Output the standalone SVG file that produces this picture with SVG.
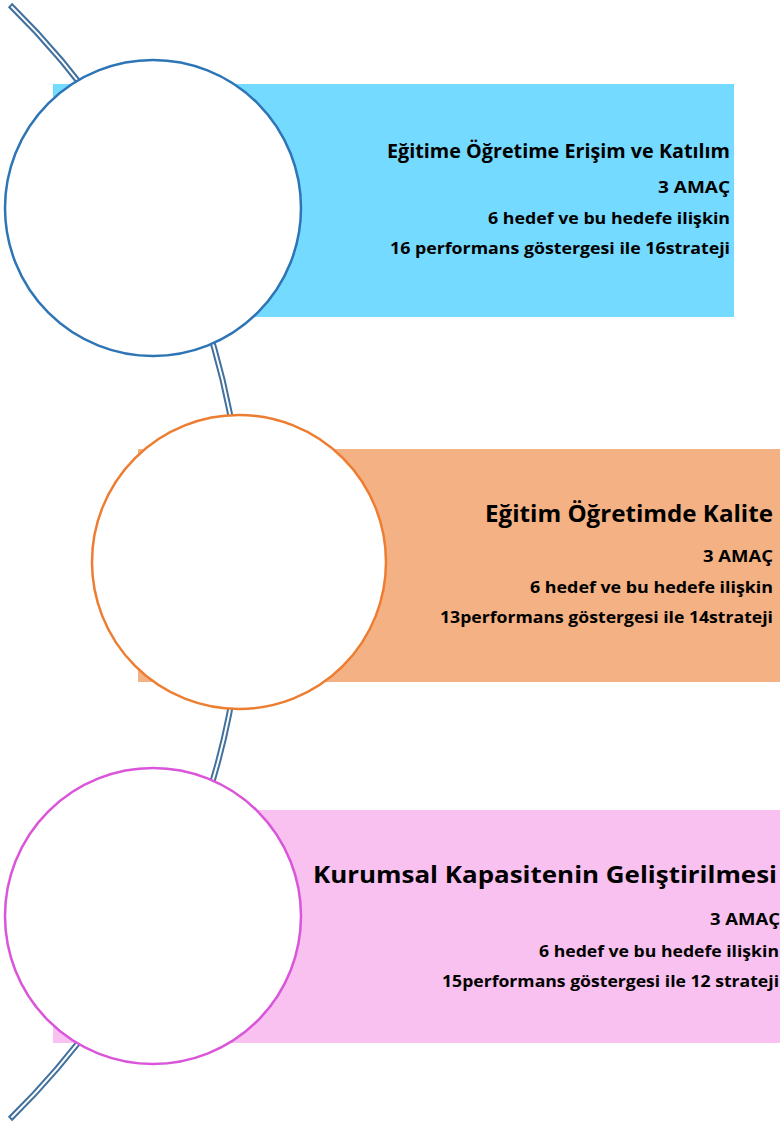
<svg xmlns="http://www.w3.org/2000/svg" width="780" height="1128" viewBox="0 0 780 1128">
<style>
.spine-o{fill:none;stroke:#41719C;stroke-width:6}
.spine-i{fill:none;stroke:#FFFFFF;stroke-width:2}
.ring{fill:#FFFFFF;stroke-width:2.5}
text{font-family:"Open Sans","Noto Sans","Liberation Sans",sans-serif;font-weight:bold;fill:#000000;text-anchor:end}
.s{font-size:16px}
.t1{font-size:19px}
.t2{font-size:24px}
</style>
<rect width="780" height="1128" fill="#FFFFFF"/>
<g id="connectors">
<path class="spine-o" d="M10,5 A780,780 0 0 1 10,1119"/>
<path class="spine-i" d="M10,5 A780,780 0 0 1 10,1119" pathLength="1000" stroke-dasharray="0 1.6 996.8 1.6"/>
</g>
<g id="node1">
<rect x="53" y="84" width="681" height="233" fill="#75DAFF"/>
<circle class="ring" cx="153" cy="208" r="148" stroke="#2E75B6"/>
<text class="t1" x="730" y="158" textLength="343" lengthAdjust="spacingAndGlyphs">Eğitime Öğretime Erişim ve Katılım</text>
<text class="s" x="730" y="193" textLength="72" lengthAdjust="spacingAndGlyphs">3 AMAÇ</text>
<text class="s" x="730" y="224" textLength="242" lengthAdjust="spacingAndGlyphs">6 hedef ve bu hedefe ilişkin</text>
<text class="s" x="730" y="254" textLength="340" lengthAdjust="spacingAndGlyphs">16 performans göstergesi ile 16strateji</text>
</g>
<g id="node2">
<rect x="138" y="449" width="642" height="233" fill="#F4B183"/>
<circle class="ring" cx="239" cy="562" r="147" stroke="#ED7D31"/>
<text class="t2" x="773" y="522" textLength="288" lengthAdjust="spacingAndGlyphs">Eğitim Öğretimde Kalite</text>
<text class="s" x="773" y="562" textLength="70" lengthAdjust="spacingAndGlyphs">3 AMAÇ</text>
<text class="s" x="773" y="593" textLength="243" lengthAdjust="spacingAndGlyphs">6 hedef ve bu hedefe ilişkin</text>
<text class="s" x="773" y="623" textLength="333" lengthAdjust="spacingAndGlyphs">13performans göstergesi ile 14strateji</text>
</g>
<g id="node3">
<rect x="53" y="810" width="727" height="233" fill="#F8C1EF"/>
<circle class="ring" cx="153" cy="916" r="148" stroke="#DA55DA"/>
<text class="t2" x="777" y="883" textLength="464" lengthAdjust="spacingAndGlyphs">Kurumsal Kapasitenin Geliştirilmesi</text>
<text class="s" x="780" y="925" textLength="70" lengthAdjust="spacingAndGlyphs">3 AMAÇ</text>
<text class="s" x="779" y="957" textLength="240" lengthAdjust="spacingAndGlyphs">6 hedef ve bu hedefe ilişkin</text>
<text class="s" x="779" y="987" textLength="337" lengthAdjust="spacingAndGlyphs">15performans göstergesi ile 12 strateji</text>
</g>
</svg>
